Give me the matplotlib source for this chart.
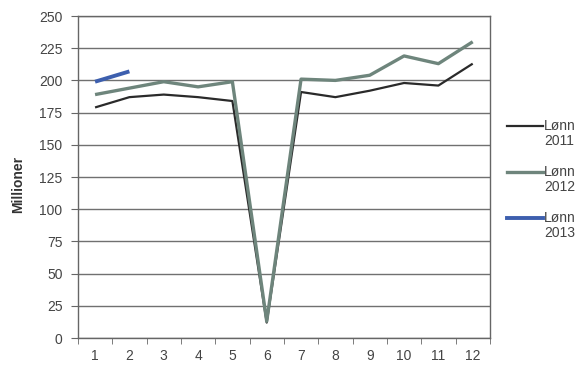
import matplotlib.pyplot as plt
import numpy as np
from matplotlib.lines import Line2D

plt.rcParams['font.family'] = ['Liberation Sans', 'DejaVu Sans']

# monthly wage costs, millions
months = list(range(1, 13))
lonn_2011 = [179, 187, 189, 187, 184, 12, 191, 187, 192, 198, 196, 213]
lonn_2012 = [189, 194, 199, 195, 199, 13, 201, 200, 204, 219, 213, 230]
lonn_2013 = [199, 207]

series = [
    ("Lønn\n2011", lonn_2011, "#2a2a2a", 1.6),
    ("Lønn\n2012", lonn_2012, "#6e857c", 2.4),
    ("Lønn\n2013", lonn_2013, "#3d5fae", 2.8),
]

fig = plt.figure(figsize=(5.77, 3.68), dpi=100)
ax = fig.add_axes([0.135, 0.0815, 0.714, 0.875])

for label, vals, color, lw in series:
    ax.plot(months[:len(vals)], vals, color=color, lw=lw, solid_capstyle='butt', zorder=3)

ax.set_xlim(0.5, 12.5)
ax.set_ylim(0, 250)
ax.set_yticks(np.arange(0, 251, 25))
ax.set_xticks(months)
ax.set_xticks(np.arange(0.5, 12.6, 1), minor=True)
ax.tick_params(axis='x', which='major', length=0, pad=8, labelsize=10, labelcolor='#444444')
ax.tick_params(axis='x', which='minor', length=4, color='#666666')
ax.tick_params(axis='y', length=5, color='#666666', labelsize=10, labelcolor='#444444', pad=6)
ax.grid(axis='y', color='#707070', lw=1.0)
ax.set_axisbelow(True)
for side in ax.spines.values():
    side.set_color('#666666')
    side.set_linewidth(1.0)

fig.text(0.031, 0.5, "Millioner", rotation=90, ha='center', va='center',
         fontsize=10, fontweight='bold', color='#333333')

# legend drawn beside the plot area
W, H = 577, 368
for i, (label, vals, color, lw) in enumerate(series):
    y = 126 + i * 46
    fig.add_artist(Line2D([507 / W, 543 / W], [1 - y / H, 1 - y / H],
                          color=color, lw=lw, transform=fig.transFigure))
    fig.text(544 / W, 1 - (y - 7) / H, label, ha='left', va='top',
             fontsize=10, color='#444444', linespacing=1.1)

fig.savefig("out.png", dpi=100)
